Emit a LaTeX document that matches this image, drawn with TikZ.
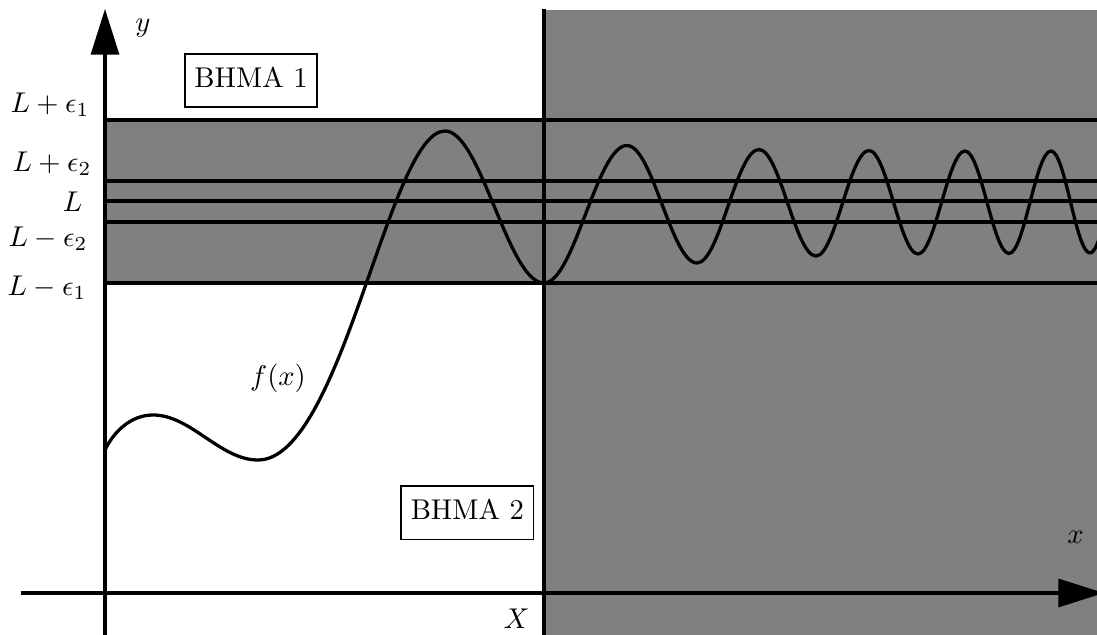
\documentclass[tikz,border=0pt]{standalone}
\usetikzlibrary{arrows.meta}
\begin{document}
\begin{tikzpicture}[x=0.35pt,y=-0.35pt,
  heavy/.style={line width=1.15pt},
  lbl/.style={inner sep=0pt},
  boxlbl/.style={draw, line width=0.6pt, inner sep=3.33pt},
  bigarrow/.style={-{Triangle[length=16pt,width=9.8pt]}}]
\useasboundingbox (0,0) rectangle (1097,635);
\clip (0,0) rectangle (1097,635);
% grey regions
\fill[gray] (105,120) rectangle (1100,283);
\fill[gray] (544,10) rectangle (1110,640);
% band lines
\foreach \yy in {120,181,201,222,283}
  \draw[heavy] (105,\yy) -- (1100,\yy);
\coordinate (Xtop) at (544,9.5);
\coordinate (Xbot) at (544,640);
\draw[heavy] (Xtop) -- (Xbot);
% the curve f(x)
\draw[heavy, line join=round]
  (105,450) .. controls (113,433) and (130,415) .. (153,415)
  .. controls (191,415) and (220,460) .. (258,460)
  .. controls (342,460) and (389,131) .. (445,131)
  .. controls (481,131) and (508,283) .. (544,283)
  .. controls (574.2,283) and (596.8,145.5) .. (627,145.5)
  .. controls (652.5,145.5) and (671.5,263) .. (697,263)
  .. controls (719.6,263) and (736.4,149.5) .. (759,149.5)
  .. controls (779.7,149.5) and (795.3,256) .. (816,256)
  .. controls (835.3,256) and (849.7,150.5) .. (869,150.5)
  .. controls (886.8,150.5) and (900.2,254) .. (918,254)
  .. controls (935.1,254) and (947.9,151) .. (965,151)
  .. controls (981,151) and (993,253.5) .. (1009,253.5)
  .. controls (1024.3,253.5) and (1035.7,151) .. (1051,151)
  .. controls (1065.2,151) and (1075.8,253) .. (1090,253)
  .. controls (1103.5,253) and (1113.5,151) .. (1127,151);
% axes
\coordinate (ybot) at (105,640);
\coordinate (ytop) at (105,9);
\coordinate (xleft) at (21,593);
\coordinate (xright) at (1104,593);
\draw[heavy, bigarrow] (ybot) -- (ytop);
\draw[heavy, bigarrow] (xleft) -- (xright);
% labels
\node[lbl, anchor=east] (le1p) at (90,105) {$L+\epsilon_1$};
\node[lbl, anchor=east] (le2p) at (92,164) {$L+\epsilon_2$};
\node[lbl, anchor=east] (lL) at (83,202) {$L$};
\node[lbl, anchor=east] (le2m) at (88,239) {$L-\epsilon_2$};
\node[lbl, anchor=east] (le1m) at (87,288) {$L-\epsilon_1$};
\node[lbl] (ylab) at (143,28) {$y$};
\node[lbl] (xlab) at (1075.5,537.5) {$x$};
\node[lbl] (Xlab) at (516.5,618.5) {$X$};
\node[lbl] (flab) at (278,378) {$f(x)$};
\node[boxlbl] (b1) at (251,80.5) {BHMA 1\strut};
\node[boxlbl] (b2) at (467.3,512.8) {BHMA 2\strut};
\end{tikzpicture}
\end{document}
